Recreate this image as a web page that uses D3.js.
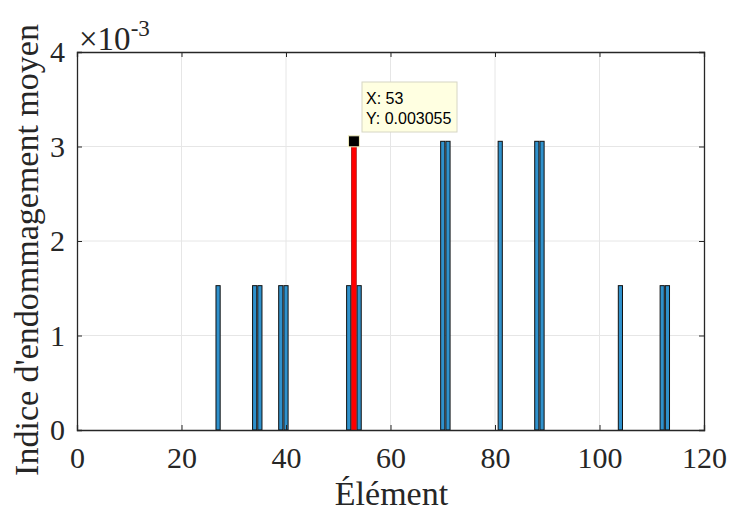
<!DOCTYPE html>
<html lang="fr">
<meta charset="utf-8"/>
<head>
<script src="https://d3js.org/d3.v7.min.js"></script>
<style>
  body { margin: 0; background: #fff; }
  svg text { font-family: "Liberation Serif", "Times New Roman", serif; fill: #262626; }
  .tip text { font-family: "Liberation Sans", Arial, sans-serif; fill: #000; }
</style>
</head>
<body>
<svg id="chart" width="729" height="513"></svg>
<script>
// elements with non-zero damage index
let elements = [27, 34, 35, 39, 40, 52, 53, 54, 70, 71, 81, 88, 89, 104, 112, 113]
let damage   = [0.0015275, 0.0015275, 0.0015275, 0.0015275, 0.0015275, 0.0015275, 0.003055, 0.0015275,
                0.003055, 0.003055, 0.003055, 0.003055, 0.003055, 0.0015275, 0.0015275, 0.0015275]
let xTicks = [0, 20, 40, 60, 80, 100, 120]
let yTicks = [0, 0.001, 0.002, 0.003, 0.004]
let picked = {x: 53, y: 0.003055}

let svg = d3.select("#chart")
let pLeft = 77, pRight = 704, pTop = 52, pBottom = 430

let x = d3.scaleLinear().domain([0, 120]).range([pLeft, pRight])
let y = d3.scaleLinear().domain([0, 0.004]).range([pBottom, pTop])
let barW = x(0.8) - x(0)

// grid
svg.append("g").selectAll("line").data(xTicks.slice(1, -1)).join("line")
  .attr("x1", d => x(d)).attr("x2", d => x(d)).attr("y1", pTop).attr("y2", pBottom)
  .attr("stroke", "#e6e6e6").attr("stroke-width", 1)
svg.append("g").selectAll("line").data(yTicks.slice(1, -1)).join("line")
  .attr("y1", d => y(d)).attr("y2", d => y(d)).attr("x1", pLeft).attr("x2", pRight)
  .attr("stroke", "#e6e6e6").attr("stroke-width", 1)

// bars
let data = elements.map((e, i) => ({e: e, v: damage[i]}))
svg.append("g").selectAll("rect").data(data).join("rect")
  .attr("x", d => x(d.e) - barW / 2)
  .attr("y", d => y(d.v))
  .attr("width", barW)
  .attr("height", d => y(0) - y(d.v))
  .attr("fill", "#2f91cc")
  .attr("stroke", "#111")
  .attr("stroke-width", 1)

// selected element
svg.append("line")
  .attr("x1", x(picked.x)).attr("x2", x(picked.x))
  .attr("y1", y(0)).attr("y2", y(picked.y))
  .attr("stroke", "#ff0000").attr("stroke-width", 5)

// axes
let xAxis = d3.axisBottom(x).tickValues(xTicks).tickSize(-5).tickPadding(17).tickFormat(d3.format("d"))
let gx = svg.append("g").attr("transform", "translate(0," + pBottom + ")").call(xAxis)
let yAxis = d3.axisLeft(y).tickValues(yTicks).tickSize(-5).tickPadding(12).tickFormat(d => Math.round(d * 1000))
let gy = svg.append("g").attr("transform", "translate(" + pLeft + ",0)").call(yAxis)
svg.append("g").attr("transform", "translate(0," + pTop + ")")
  .call(d3.axisTop(x).tickValues(xTicks).tickSize(-5).tickFormat(""))
svg.append("g").attr("transform", "translate(" + pRight + ",0)")
  .call(d3.axisRight(y).tickValues(yTicks).tickSize(-5).tickFormat(""))
svg.selectAll(".domain").attr("stroke", "#262626").attr("stroke-width", 1.3)
svg.selectAll(".tick line").attr("stroke", "#262626")
gx.selectAll("text").attr("font-size", 30).attr("fill", "#262626")
  .style("font-family", "Liberation Serif")
gy.selectAll("text").attr("font-size", 30).attr("fill", "#262626")
  .style("font-family", "Liberation Serif")

// exponent
let ex = svg.append("text").attr("x", 79).attr("y", 50).attr("font-size", 33)
ex.append("tspan").text("\u00d710")
ex.append("tspan").attr("dy", -14).attr("font-size", 23).text("-3")

// labels
svg.append("text").attr("x", (pLeft + pRight) / 2 + 1).attr("y", 505)
  .attr("text-anchor", "middle").attr("font-size", 34).text("Élément")
svg.append("text").attr("transform", "translate(38,250) rotate(-90)")
  .attr("text-anchor", "middle").attr("font-size", 34).text("Indice d'endommagement moyen")

// data tip
svg.append("rect")
  .attr("x", x(picked.x) - 5.5).attr("y", y(picked.y) - 5.5)
  .attr("width", 11).attr("height", 11)
  .attr("fill", "#000").attr("stroke", "#f4f0c0").attr("stroke-width", 1)
let tip = svg.append("g").attr("class", "tip")
tip.append("rect").attr("x", 362).attr("y", 82).attr("width", 95).attr("height", 50)
  .attr("fill", "#ffffe1").attr("stroke", "#d6d6c4")
tip.append("text").attr("x", 366).attr("y", 104).attr("font-size", 16).text("X: " + picked.x)
tip.append("text").attr("x", 366).attr("y", 124).attr("font-size", 16).text("Y: " + picked.y)
</script>
</body>
</html>
